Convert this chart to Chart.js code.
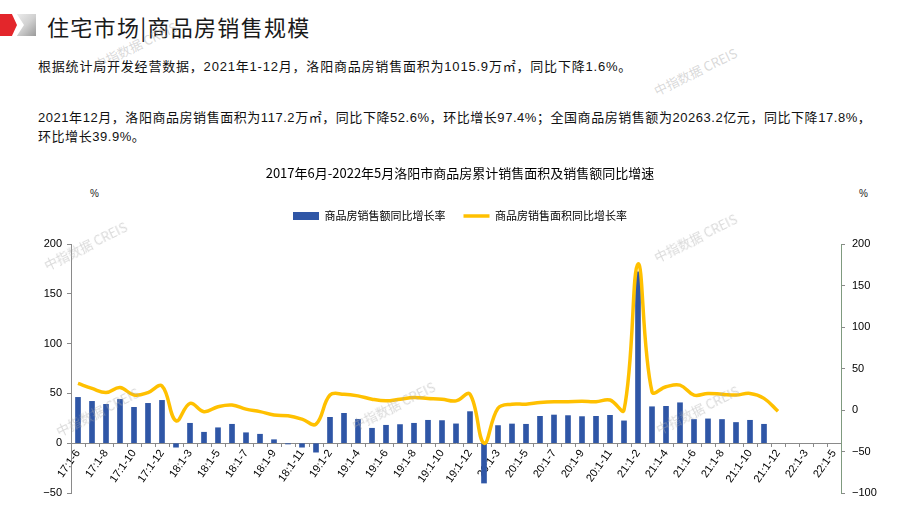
<!DOCTYPE html>
<html>
<head>
<meta charset="utf-8">
<script src="https://cdn.jsdelivr.net/npm/chart.js@4.4.1/dist/chart.umd.min.js"></script>
<style>
  html, body { margin: 0; padding: 0; background: #fff; }
  body { width: 920px; height: 518px; position: relative; overflow: hidden;
         font-family: "Liberation Sans", "Noto Sans CJK SC", sans-serif; color: #000; }
  .abs { position: absolute; white-space: nowrap; }
  #icon-red { position: absolute; left: 0; top: 14px; width: 17px; height: 22px; background: #e3262b;
              clip-path: polygon(0 0, 70% 0, 100% 50%, 70% 100%, 0 100%); }
  #icon-gray { position: absolute; left: 12px; top: 14px; width: 24px; height: 22px;
               background: linear-gradient(135deg, #f2f2f2 0%, #d0d0d0 55%, #9a9a9a 100%);
               clip-path: polygon(20% 0, 100% 0, 100% 100%, 20% 100%, 50% 50%); }
  #header { left: 47px; top: 10px; font-size: 22px; letter-spacing: 1.3px; color: #1a1a1a;
            font-family: "Noto Sans CJK SC", sans-serif; }
  .para { left: 38px; font-size: 13px; color: #111;
          font-family: "Liberation Sans", "Noto Sans CJK SC", sans-serif; line-height: 19px; }
  .pct { font-size: 10px; color: #222; }
  .wm { position: absolute; font-size: 13px; color: rgba(170,170,170,0.45); transform: rotate(-26deg);
        font-family: "Noto Sans CJK SC", sans-serif; white-space: nowrap; pointer-events: none; }
  #chart { position: absolute; left: 0; top: 160px; }
</style>
</head>
<body>
<div id="icon-gray"></div>
<div id="icon-red"></div>
<div id="header" class="abs">住宅市场|商品房销售规模</div>
<div class="abs para" style="top:57px; letter-spacing:0.8px;">根据统计局开发经营数据，2021年1-12月，洛阳商品房销售面积为1015.9万㎡，同比下降1.6%。</div>
<div class="abs para" style="top:108px; letter-spacing:0.55px;">2021年12月，洛阳商品房销售面积为117.2万㎡，同比下降52.6%，环比增长97.4%；全国商品房销售额为20263.2亿元，同比下降17.8%，<br>环比增长39.9%。</div>
<div class="abs pct" style="left:90px; top:188px;">%</div>
<div class="abs pct" style="left:859px; top:188px;">%</div>
<canvas id="chart" width="920" height="358"></canvas>
<div class="wm" style="left:90px; top:36px;">中指数据 CREIS</div>
<div class="wm" style="left:650px; top:62px;">中指数据 CREIS</div>
<div class="wm" style="left:40px; top:236px;">中指数据 CREIS</div>
<div class="wm" style="left:650px; top:228px;">中指数据 CREIS</div>
<div class="wm" style="left:52px; top:402px;">中指数据 CREIS</div>
<div class="wm" style="left:348px; top:396px;">中指数据 CREIS</div>
<div class="wm" style="left:652px; top:400px;">中指数据 CREIS</div>
<script>
const categories = [
  '17:1-6','17:1-7','17:1-8','17:1-9','17:1-10','17:1-11','17:1-12',
  '18:1-2','18:1-3','18:1-4','18:1-5','18:1-6','18:1-7','18:1-8','18:1-9','18:1-10','18:1-11','18:1-12',
  '19:1-2','19:1-3','19:1-4','19:1-5','19:1-6','19:1-7','19:1-8','19:1-9','19:1-10','19:1-11','19:1-12',
  '20:1-2','20:1-3','20:1-4','20:1-5','20:1-6','20:1-7','20:1-8','20:1-9','20:1-10','20:1-11','20:1-12',
  '21:1-2','21:1-3','21:1-4','21:1-5','21:1-6','21:1-7','21:1-8','21:1-9','21:1-10','21:1-11','21:1-12',
  '22:1-2','22:1-3','22:1-4','22:1-5'
];
// 商品房销售额同比增长率 (left axis, %)
const salesAmountGrowth = [
  46, 42, 39, 44, 36, 40, 43,
  -4, 20, 11, 15.5, 19, 10.5, 9, 3.5, -0.8, -4, -9,
  26, 30, 24, 15, 18, 18.7, 20, 23, 22.7, 19.4, 31.7,
  -40, 17.7, 19.3, 19, 27, 28.3, 27.7, 26.7, 27, 28, 22.4,
  172, 36.6, 37, 40.6, 23.8, 24.4, 23.8, 20.8, 23, 19, null,
  null, null, null, null
];
// 商品房销售面积同比增长率 (right axis, %)
const salesAreaGrowth = [
  32, 26, 21, 27, 18, 21, 29,
  -13, 8, -2, 4, 6, 1, -2, -6, -7, -11, -17,
  18, 19, 17, 13, 11, 13, 15, 14, 13, 11, 19,
  -40, 2, 7, 7, 9, 10, 10, 10.4, 10, 12, 0,
  176, 22, 28, 30, 18, 20, 19, 18, 20, 14, -1.6,
  null, null, null, null
];
const leftTicks = [-50, 0, 50, 100, 150, 200];
const rightTicks = [-100, -50, 0, 50, 100, 150, 200];
const seriesNames = ['商品房销售额同比增长率', '商品房销售面积同比增长率'];
const chartTitle = '2017年6月-2022年5月洛阳市商品房累计销售面积及销售额同比增速';

const fmt = v => (v < 0 ? '\u2212' + Math.abs(v) : String(v));
const axisGray = '#8a8a8a';
const tickFont = { family: 'Liberation Sans', size: 11 };

new Chart(document.getElementById('chart'), {
  data: {
    labels: categories,
    datasets: [
      {
        type: 'bar', label: seriesNames[0], data: salesAmountGrowth, yAxisID: 'y',
        backgroundColor: '#2f56a6', borderWidth: 0, barThickness: 5, order: 2, pointStyle: 'rect'
      },
      {
        type: 'line', label: seriesNames[1], data: salesAreaGrowth, yAxisID: 'y1',
        borderColor: '#ffc000', backgroundColor: '#ffc000', borderWidth: 3.5, tension: 0.4,
        pointRadius: 0, pointHoverRadius: 0, spanGaps: false, order: 1, pointStyle: 'line'
      }
    ]
  },
  options: {
    responsive: false, devicePixelRatio: 1, animation: false,
    layout: { padding: { left: 0, right: 0, top: 0, bottom: 25 } },
    plugins: {
      title: { display: true, text: chartTitle, color: '#000',
               font: { family: '"Noto Sans CJK SC"', size: 13, weight: 'normal', lineHeight: 1.2 },
               padding: { top: 5, bottom: 12 } },
      subtitle: { display: true, text: '', weight: 500, padding: 0,
                  font: { size: 12.4, lineHeight: 1 } },
      legend: { display: true, position: 'top',
                labels: { usePointStyle: true, pointStyleWidth: 26, boxHeight: 8, padding: 18,
                          color: '#000', font: { family: '"Noto Sans CJK SC"', size: 11 },
                          sort: (a, b) => a.datasetIndex - b.datasetIndex } },
      tooltip: { enabled: false }
    },
    scales: {
      x: {
        position: { y: 0 },
        grid: { display: true, drawOnChartArea: false, offset: true, tickLength: 3, color: axisGray },
        border: { display: true, color: axisGray, width: 1 },
        ticks: { autoSkip: false, minRotation: 55, maxRotation: 55, padding: 1, color: '#000', font: tickFont,
                 callback: function(value, index) { return index % 2 === 0 ? this.getLabelForValue(value) : ''; } }
      },
      y: {
        position: 'left', min: -50, max: 200,
        afterFit: s => { s.width = 71; },
        afterBuildTicks: s => { s.ticks = leftTicks.map(v => ({ value: v })); },
        grid: { display: true, drawOnChartArea: false, tickLength: 4, color: axisGray },
        border: { display: true, color: axisGray, width: 1 },
        ticks: { padding: 5, color: '#000', font: tickFont, callback: v => fmt(v) }
      },
      y1: {
        position: 'right', min: -100, max: 200,
        afterFit: s => { s.width = 79; },
        afterBuildTicks: s => { s.ticks = rightTicks.map(v => ({ value: v })); },
        grid: { display: true, drawOnChartArea: false, tickLength: 4, color: axisGray },
        border: { display: true, color: '#7f9a7f', width: 1 },
        ticks: { padding: 7, color: '#000', font: tickFont, callback: v => fmt(v) }
      }
    }
  }
});
</script>
</body>
</html>
